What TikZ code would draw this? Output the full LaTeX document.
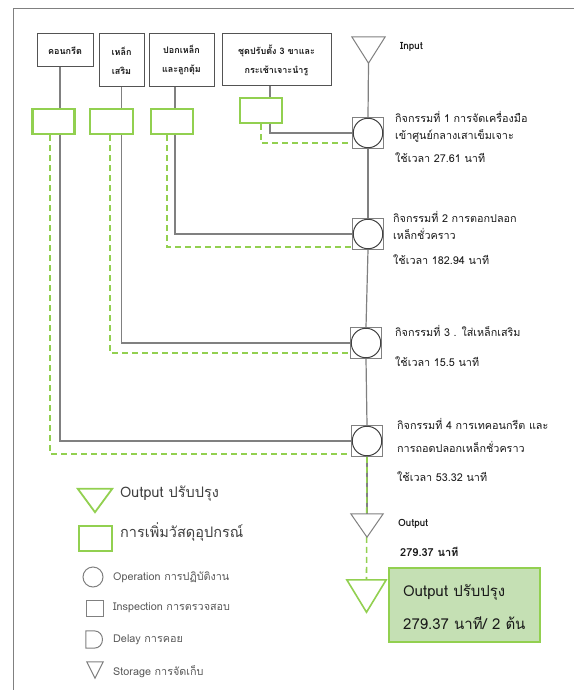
\documentclass[tikz,border=0pt]{standalone}
\usepackage{fontspec}
\setmainfont[Script=Thai]{Loma}
\usetikzlibrary{calc,backgrounds}
\definecolor{gr}{HTML}{92D050}
\definecolor{lgf}{HTML}{C5E0B4}
\definecolor{ln}{HTML}{808080}
\definecolor{dk}{HTML}{404040}
\definecolor{tx}{HTML}{1A1A1A}
\definecolor{lt}{HTML}{595959}
\begin{document}
\begin{tikzpicture}[x=1pt,y=-1pt,
 gline/.style={draw=ln, line width=1.2pt},
 gdash/.style={draw=gr, line width=1.6pt, dash pattern=on 6pt off 4pt},
 topbox/.style={draw=dk!90, line width=1pt, fill=white, align=center, text=tx, font=\bfseries\fontsize{9}{19}\selectfont, inner sep=0pt},
 greenbox/.style={draw=gr, line width=2.6pt, fill=white, inner sep=0pt, minimum height=25, minimum width=42},
 opsq/.style={draw=ln, line width=0.8pt, fill=white, minimum size=31, inner sep=0},
 opc/.style={circle, draw=dk, line width=1pt, fill=white, minimum size=29.5, inner sep=0},
 lbl/.style={anchor=west, inner sep=0, text=tx, font=\fontsize{10.8}{12}\selectfont},
 blbl/.style={anchor=west, inner sep=0, text=tx, font=\bfseries\fontsize{10}{12}\selectfont},
 leg/.style={anchor=west, inner sep=0, text=lt, font=\fontsize{10.8}{12}\selectfont},
 bigleg/.style={anchor=west, inner sep=0, text=dk, font=\fontsize{14.5}{16}\selectfont},
 restx/.style={anchor=west, inner sep=0, text=tx, font=\fontsize{15}{17}\selectfont},
 shp/.style={inner sep=0},
]
\useasboundingbox (0,0) rectangle (574,690);
% frame
\draw[ln, line width=1pt] (13,690) -- (13,9) -- (574,9);

% top material boxes
\node[topbox, minimum width=56, minimum height=33] (b1) at (65,50.5) {คอนกรีต};
\node[topbox, minimum width=45, minimum height=53] (b2) at (121.5,60.5) {เหล็ก\\เสริม};
\node[topbox, minimum width=65, minimum height=53] (b3) at (181.5,60.5) {ปอกเหล็ก\\และลูกตุ้ม};
\node[topbox, minimum width=109, minimum height=52] (b4) at (276.5,60) {ชุดปรับตั้ง 3 ขาและ\\กระเช้าเจาะนำรู};

% green added-material boxes
\node[greenbox] (g1) at (53.5,121.5) {};
\node[greenbox, minimum width=43] (g2) at (111.5,121.5) {};
\node[greenbox] (g3) at (172,121.5) {};
\node[greenbox] (g4) at (261,110.5) {};

% triangles
\node[shp, minimum width=33, minimum height=26] (tin) at (368.5,50) {};
\node[shp, minimum width=32, minimum height=23] (tout) at (367,525.5) {};
\node[shp, minimum width=39, minimum height=32] (tg) at (366.5,596) {};
\draw[ln, line width=1pt, fill=white] (tin.north west) -- (tin.north east) -- (tin.south) -- cycle;

% operations
\node[opsq] (s1) at (368,133) {};
\node[opc] (o1) at (368,133) {};
\node[opsq] (s2) at (368,234) {};
\node[opc] (o2) at (368,234) {};
\node[opsq] (s3) at (366,343) {};
\node[opc] (o3) at (366,343) {};
\node[opsq] (s4) at (367,441) {};
\node[opc] (o4) at (367,441) {};

\begin{scope}[on background layer]
\fill[white] (0,0) rectangle (574,690);
% main flow
\draw[gline] (tin.south) -- (s1.north);
\draw[gline] (s1.south) -- (s2.north);
\draw[gline] (s2.south) -- (s3.north);
\draw[gline] (s3.south) -- (s4.north);
\draw[gline] (s4.south) -- (tout.north);
\draw[gdash] (s4.south) -- (tg.north);
% material feeds
\draw[gline] ($(b1.south)+(-5,0)$) |- (s4.west);
\draw[gline] (b2.south) |- (s3.west);
\draw[gline] ($(b3.south)+(-6.5,0)$) |- (s2.west);
\draw[gline] ($(b4.south)+(-6.5,0)$) |- (s1.west);
% added-material feeds
\draw[gdash] ($(g1.south)+(-3.5,0)$) |- ($(s4.west)+(0,13)$);
\draw[gdash] ($(g2.south)+(-1.5,0)$) |- ($(s3.west)+(0,10)$);
\draw[gdash] ($(g3.south)+(-5,0)$) |- ($(s2.west)+(0,13)$);
\draw[gdash] (g4.south) |- ($(s1.west)+(0,10)$);
\end{scope}

\draw[ln, line width=1pt, fill=white] (tout.north west) -- (tout.north east) -- (tout.south) -- cycle;
\draw[gr, line width=1.6pt, fill=white] (tg.north west) -- (tg.north east) -- (tg.south) -- cycle;

% labels
\node[blbl] (lin) at (400,47) {Input};
\node[lbl] (t1a) at (395,117) {กิจกรรมที่ 1 การจัดเครื่องมือ};
\node[lbl] (t1b) at (395,136) {เข้าศูนย์กลางเสาเข็มเจาะ};
\node[lbl] (t1c) at (395,158) {ใช้เวลา 27.61 นาที};
\node[lbl] (t2a) at (393,217) {กิจกรรมที่ 2 การตอกปลอก};
\node[lbl] (t2b) at (393,234) {เหล็กชั่วคราว};
\node[lbl] (t2c) at (393,260) {ใช้เวลา 182.94 นาที};
\node[lbl] (t3a) at (395,331) {กิจกรรมที่ 3 . ใส่เหล็กเสริม};
\node[lbl] (t3c) at (395,362) {ใช้เวลา 15.5 นาที};
\node[lbl] (t4a) at (397,424) {กิจกรรมที่ 4 การเทคอนกรีต และ};
\node[lbl] (t4b) at (397,447) {การถอดปลอกเหล็กชั่วคราว};
\node[lbl] (t4c) at (397,477) {ใช้เวลา 53.32 นาที};
\node[blbl] (lout) at (398,524) {Output};
\node[blbl, font=\bfseries\fontsize{11}{12}\selectfont] (ltime) at (400,552) {279.37 นาที};

% result box
\node[draw=gr, line width=2.8pt, fill=lgf, minimum width=151, minimum height=74, inner sep=0] (res) at (464.5,605) {};
\node[restx] (r1) at (403,592) {Output ปรับปรุง};
\node[restx] (r2) at (403,623) {279.37 นาที/ 2 ต้น};

% legend
\node[shp, minimum width=34, minimum height=23] (lt1) at (95,500.5) {};
\draw[gr, line width=1.8pt] (lt1.north west) -- (lt1.north east) -- (lt1.south) -- cycle;
\node[bigleg] (lx1) at (120,494) {Output ปรับปรุง};
\node[draw=gr, line width=2.6pt, minimum width=33, minimum height=25, inner sep=0] (lg1) at (95.5,538.5) {};
\node[bigleg] (lx2) at (120,532) {การเพิ่มวัสดุอุปกรณ์};
\node[circle, draw=ln, line width=1pt, minimum size=20, inner sep=0] (lc) at (93,577) {};
\node[leg] (lx3) at (113,577) {Operation การปฏิบัติงาน};
\node[draw=ln, line width=1pt, minimum width=17, minimum height=16, inner sep=0] (lsq) at (94.5,608) {};
\node[leg] (lx4) at (113,608) {Inspection การตรวจสอบ};
\node[shp, minimum width=16, minimum height=17] (ld) at (94,639.5) {};
\draw[ln, line width=1pt] (ld.south west) -- (ld.north west) -- (ld.north) .. controls +(11.3,0) and +(11.3,0) .. (ld.south) -- cycle;
\node[leg] (lx5) at (113,640) {Delay การคอย};
\node[shp, minimum width=16, minimum height=16] (ls) at (95,670) {};
\draw[ln, line width=1pt] (ls.north west) -- (ls.north east) -- (ls.south) -- cycle;
\node[leg] (lx6) at (113,672) {Storage การจัดเก็บ};
\end{tikzpicture}
\end{document}
